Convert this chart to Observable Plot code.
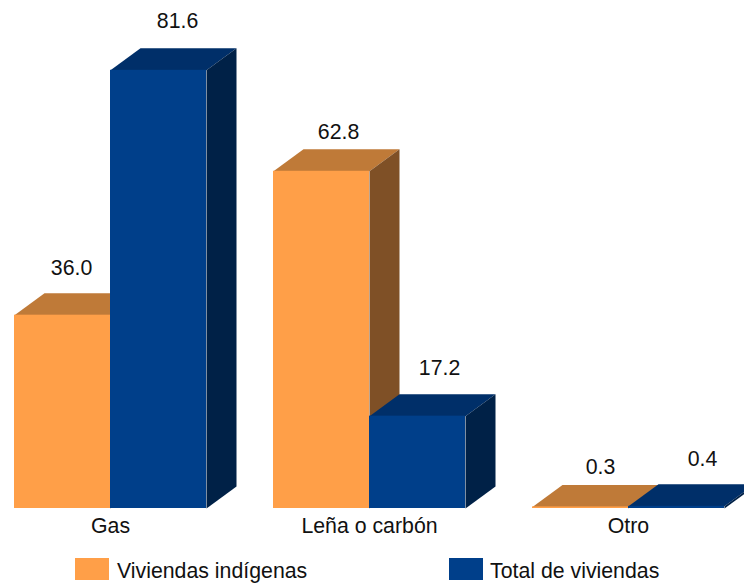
<!DOCTYPE html>
<html><head><meta charset="utf-8">
<script src="https://cdn.jsdelivr.net/npm/d3@7"></script>
<script src="https://cdn.jsdelivr.net/npm/@observablehq/plot@0.6"></script>
<style>
html,body{margin:0;padding:0;background:#fff;font-family:"Liberation Sans",Arial,sans-serif;}
#legend{position:relative;height:41px;font-size:21.3px;color:#111;}
#legend span{position:absolute;top:14px;line-height:24px;}
#legend i{position:absolute;top:13px;width:34px;height:22px;}
</style></head><body>
<div id="chart"></div>
<div id="legend"></div>
<script>
const categories = ["Gas", "Leña o carbón", "Otro"];
const indigenas = [36.0, 62.8, 0.3];
const total = [81.6, 17.2, 0.4];
const seriesNames = ["Viviendas indígenas", "Total de viviendas"];

const W = 744, H = 545, base = 508, pxPerUnit = 5.37;
const barW = 96, step = 259, left = 14, depthX = 30, depthY = 22;
const depthV = depthY / pxPerUnit;
const colors = {
  ind: {front: "#ff9f48", top: "#bf7a38", side: "#7f5026"},
  tot: {front: "#003f8a", top: "#002f69", side: "#002147"}
};
const barsOf = (vals, s) => vals.map((v, i) => ({id: i, v, x1: left + i * step + s * barW, x2: left + i * step + (s + 1) * barW}));
const topFace = b => [[b.x1, b.v], [b.x2, b.v], [b.x2 + depthX, b.v + depthV], [b.x1 + depthX, b.v + depthV]].map(([x, y]) => ({id: b.id, x, y}));
const sideFace = b => [[b.x2, 0], [b.x2 + depthX, depthV], [b.x2 + depthX, b.v + depthV], [b.x2, b.v]].map(([x, y]) => ({id: b.id, x, y}));
const barsInd = barsOf(indigenas, 0), barsTot = barsOf(total, 1);
const face = (bars, fn, fill) => Plot.line(bars.flatMap(fn), {x: "x", y: "y", z: "id", fill, stroke: null});
const labelShift = [[9, 17, 20], [19, 22, 26]];
const labelLift = [[25, 17, 18], [27, 26, 25]];
const labels = (bars, s) => Plot.text(bars, {
  x: (d, i) => (d.x1 + d.x2) / 2 + labelShift[s][i],
  y: (d, i) => d.v + depthV + labelLift[s][i] / pxPerUnit,
  text: d => d.v.toFixed(1), fontSize: 21.3, fill: "#111"});

const plot = Plot.plot({
  width: W, height: H, margin: 0, marginBottom: H - base,
  style: {fontFamily: '"Liberation Sans",Arial,sans-serif', background: "#fff", overflow: "visible"},
  x: {domain: [0, W], range: [0, W], axis: null},
  y: {domain: [0, base / pxPerUnit], range: [base, 0], axis: null},
  marks: [
    face(barsInd, topFace, colors.ind.top),
    face(barsInd, sideFace, colors.ind.side),
    Plot.rectY(barsInd, {x1: "x1", x2: "x2", y: "v", fill: colors.ind.front}),
    face(barsTot, topFace, colors.tot.top),
    face(barsTot, sideFace, colors.tot.side),
    Plot.rectY(barsTot, {x1: "x1", x2: "x2", y: "v", fill: colors.tot.front}),
    labels(barsInd, 0),
    labels(barsTot, 1),
    Plot.axisX(categories.map((c, i) => left + i * step + barW), {
      tickSize: 0, tickPadding: 9, tickFormat: (d, i) => categories[i], fontSize: 21.3, fill: "#111", label: null
    })
  ]
});
document.getElementById("chart").append(plot);
plot.style.display = "block";

const lg = document.getElementById("legend");
[[75, 117, colors.ind.front], [449, 490, colors.tot.front]].forEach(([sx, tx, c], i) => {
  const sw = document.createElement("i"); sw.style.left = sx + "px"; sw.style.background = c; lg.append(sw);
  const t = document.createElement("span"); t.style.left = tx + "px"; t.textContent = seriesNames[i]; lg.append(t);
});
</script></body></html>
